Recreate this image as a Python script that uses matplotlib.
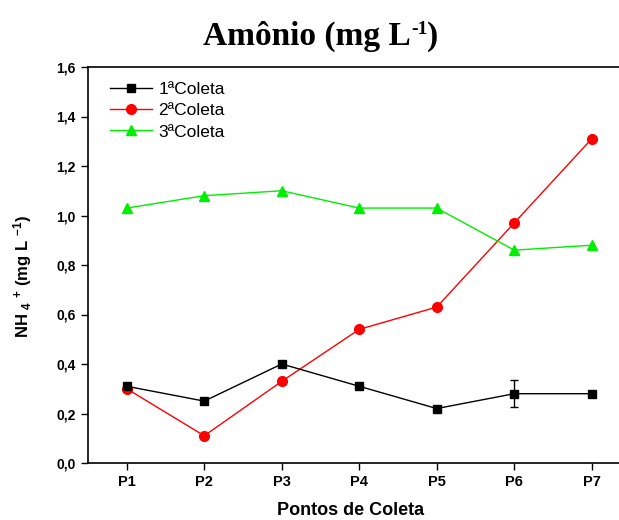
import matplotlib
matplotlib.use("Agg")
import matplotlib.pyplot as plt
from matplotlib.lines import Line2D

points = ["P1", "P2", "P3", "P4", "P5", "P6", "P7"]
coleta1 = [0.31, 0.25, 0.40, 0.31, 0.22, 0.28, 0.28]
coleta1_err = [0.01, 0.0, 0.0, 0.0, 0.0, 0.055, 0.0]
coleta2 = [0.30, 0.11, 0.33, 0.54, 0.63, 0.97, 1.31]
coleta3 = [1.03, 1.08, 1.10, 1.03, 1.03, 0.86, 0.88]
coleta3_err = [0.0, 0.0, 0.0, 0.0, 0.0, 0.012, 0.012]
yticks = [0.0, 0.2, 0.4, 0.6, 0.8, 1.0, 1.2, 1.4, 1.6]
ytick_labels = ["0,0", "0,2", "0,4", "0,6", "0,8", "1,0", "1,2", "1,4", "1,6"]
labels = ["1ªColeta", "2ªColeta", "3ªColeta"]
colors = ["black", "#ff0000", "#00ee00"]
markers = ["s", "o", "^"]

plt.rcParams['font.family'] = ['Liberation Sans', 'DejaVu Sans']
plt.rcParams['mathtext.fontset'] = 'custom'
plt.rcParams['mathtext.rm'] = 'Liberation Sans:bold'
plt.rcParams['mathtext.bf'] = 'Liberation Sans:bold'
plt.rcParams['mathtext.it'] = 'Liberation Sans:bold'

fig = plt.figure(figsize=(6.19, 5.2), dpi=100)
ax = fig.add_axes([88/619, 1-463/520, 542.5/619, (463-67)/520])

x = list(range(1, len(points)+1))
ax.errorbar(x, coleta1, yerr=coleta1_err, color=colors[0], marker=markers[0], markersize=6,
            lw=1, capsize=3, elinewidth=1)
ax.plot(x, coleta2, color=colors[1], marker=markers[1], markersize=7, lw=1)
ax.errorbar(x, coleta3, yerr=coleta3_err, color=colors[2], marker=markers[2], markersize=7,
            lw=1, capsize=0, elinewidth=1)

ax.set_xlim(0.5, 7.5)
ax.set_ylim(0, 1.6)
ax.set_xticks(x)
ax.set_xticklabels(points, fontsize=10.5, fontweight='bold')
ax.set_yticks(yticks)
ax.set_yticklabels(ytick_labels, fontsize=10, fontweight='bold')
ax.tick_params(direction='out', length=5, width=1, top=False, right=False, pad=4)
for s in ax.spines.values():
    s.set_linewidth(1.2)

ax.set_xlabel('Pontos de Coleta', fontsize=13, fontweight='bold')
ax.xaxis.set_label_coords((351-88)/542.5, -(502-463)/396)
ax.set_ylabel(r'NH $_{4}$ $^{+}$ (mg L $^{-1}$)', fontsize=12, fontweight='bold')
ax.yaxis.set_label_coords((34-88)/542.5, (463-277)/396)

handles = [Line2D([], [], color=c, marker=m, markersize=7 if m != 's' else 6, lw=1)
           for c, m in zip(colors, markers)]
ax.legend(handles, labels, loc='upper left', frameon=False, fontsize=12.5, numpoints=1,
          handlelength=2.4, handletextpad=0.4, borderaxespad=0.0,
          bbox_to_anchor=((103-88)/542.5, 1-(75-67)/396), labelspacing=0.35)

# Title built from pieces (superscript small)
renderer = fig.canvas.get_renderer()
parts = [("Amônio (mg L", 24, 0), ("-1", 14, 11), (")", 24, 0)]
xs = 203
base_y = 520 - 45
for txt, size, dy in parts:
    t = fig.text(xs/619, (base_y+dy)/520, txt, fontsize=size, fontweight='bold',
                 family='Liberation Serif', ha='left', va='baseline')
    bb = t.get_window_extent(renderer)
    xs = xs + bb.width

fig.savefig('out.png', dpi=100)
